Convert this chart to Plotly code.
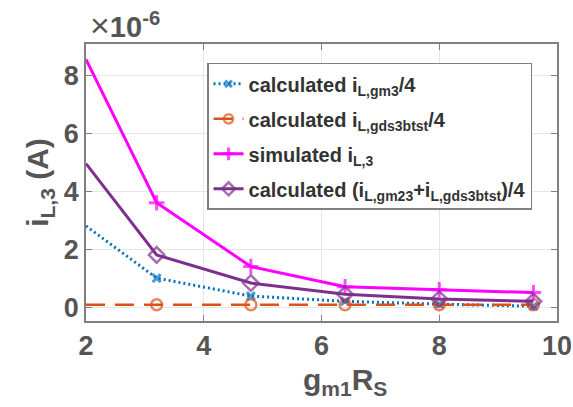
import plotly.graph_objects as go

# data (y values in units of 1e-6 A)
gm1Rs = [2, 3.2, 4.8, 6.4, 8, 9.6]
i_gm3 = [2.8, 1.0, 0.38, 0.2, 0.1, 0.03]
i_gds3btst = [0.08, 0.08, 0.08, 0.08, 0.08, 0.08]
i_sim = [8.55, 3.6, 1.4, 0.7, 0.6, 0.5]
i_sum = [4.95, 1.8, 0.83, 0.44, 0.28, 0.2]

names = [
    "<b>calculated i<sub>L,gm3</sub>/4</b>",
    "<b>calculated i<sub>L,gds3btst</sub>/4</b>",
    "<b>simulated i<sub>L,3</sub></b>",
    "<b>calculated (i<sub>L,gm23</sub>+i<sub>L,gds3btst</sub>)/4</b>",
]

TXT = "#555555"
FONT = "Liberation Sans, Arial, sans-serif"

def msizes(s):
    return [0] + [s] * (len(gm1Rs) - 1)

fig = go.Figure()
fig.add_trace(go.Scatter(x=gm1Rs, y=i_gm3, name=names[0], mode="lines+markers", legendgroup="a",
                         line=dict(color="#0072BD", width=3, dash="2px,3px"),
                         marker=dict(symbol="x-thin-open", size=msizes(8), color="#0072BD",
                                     line=dict(width=3, color="#0072BD"))))
fig.add_trace(go.Scatter(x=gm1Rs, y=i_gds3btst, name=names[1], mode="lines+markers", legendgroup="b",
                         line=dict(color="#D95319", width=2.5, dash="19px,10px"),
                         marker=dict(symbol="circle-open", size=msizes(11), color="#D95319",
                                     line=dict(width=2.5, color="#D95319"))))
fig.add_trace(go.Scatter(x=gm1Rs, y=i_sim, name=names[2], mode="lines+markers", legendgroup="c",
                         line=dict(color="#FF00FF", width=3),
                         marker=dict(symbol="cross-thin-open", size=msizes(11), color="#FF00FF",
                                     line=dict(width=3, color="#FF00FF"))))
fig.add_trace(go.Scatter(x=gm1Rs, y=i_sum, name=names[3], mode="lines+markers", legendgroup="d",
                         line=dict(color="#7E2F8E", width=3),
                         marker=dict(symbol="diamond-open", size=msizes(12), color="#7E2F8E",
                                     line=dict(width=2.5, color="#7E2F8E"))))

axis_common = dict(showline=True, linecolor="#808080", linewidth=1.5, mirror="allticks",
                   ticks="inside", ticklen=6, tickcolor="#808080", automargin=False,
                   showgrid=True, gridcolor="#e6e6e6", gridwidth=1, zeroline=False,
                   tickfont=dict(family=FONT, size=27, color=TXT))

fig.update_xaxes(range=[2, 10], tickvals=[2, 4, 6, 8, 10],
                 ticktext=["<b>2</b>", "<b>4</b>", "<b>6</b>", "<b>8</b>", "<b>10</b>"],
                 **axis_common)
fig.update_yaxes(range=[-0.48, 9.08], tickvals=[0, 2, 4, 6, 8],
                 ticktext=["<b>0</b>", "<b>2</b>", "<b>4</b>", "<b>6</b>", "<b>8</b>"],
                 title=dict(text="<b>i<sub>L,3</sub> (A)</b>", standoff=6,
                            font=dict(family=FONT, size=30, color=TXT)),
                 **axis_common)

# x-axis label (placed as annotation to match reference offset)
fig.add_annotation(x=0.55, y=0, xref="paper", yref="paper", xanchor="center", yanchor="top",
                   yshift=-40, showarrow=False,
                   text="<b>g<sub>m1</sub>R<sub>S</sub></b>",
                   font=dict(family=FONT, size=30, color=TXT))

fig.add_annotation(x=0, y=1, xref="paper", yref="paper", xanchor="left", yanchor="bottom",
                   xshift=2, yshift=-2, showarrow=False,
                   text="<span style='font-size:34px'>×</span><b>10<sup>-6</sup></b>",
                   font=dict(family=FONT, size=29, color=TXT))

fig.update_layout(
    width=573, height=407,
    margin=dict(l=86, r=16, t=44, b=86),
    paper_bgcolor="white", plot_bgcolor="white",
    showlegend=True,
    legend=dict(x=0.257, y=0.932, xanchor="left", yanchor="top",
                bgcolor="white", bordercolor="#808080", borderwidth=1.5,
                font=dict(family=FONT, size=20, color="#333333"),
                tracegroupgap=6, itemwidth=30),
)

fig.write_html("out.html", config={"displayModeBar": False},
               post_script="document.body.style.margin='0';document.body.style.overflow='hidden';")
